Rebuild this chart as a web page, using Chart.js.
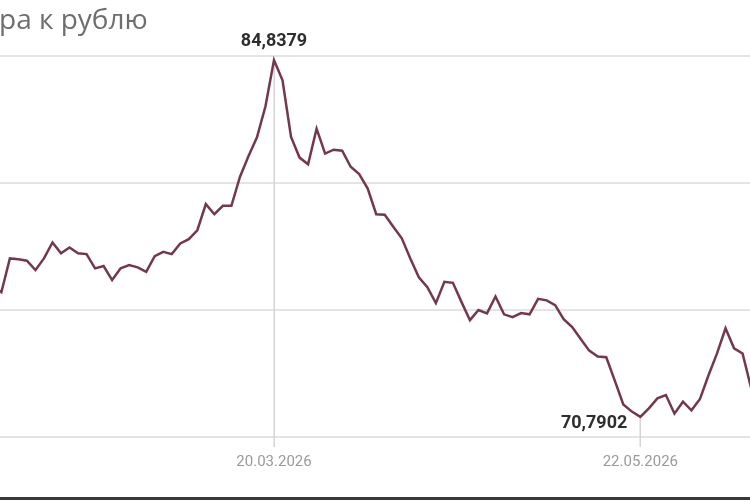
<!DOCTYPE html>
<html><head><meta charset="utf-8">
<script src="https://cdn.jsdelivr.net/npm/chart.js@4/dist/chart.umd.min.js"></script>
<style>
html,body{margin:0;padding:0;background:#fff;overflow:hidden}
#wrap{position:relative;width:750px;height:500px}
canvas{display:block}
#bar{position:absolute;left:0;bottom:0;width:750px;height:3px;background:#3a3a3a}
</style></head><body>
<div id="wrap"><canvas id="c" width="750" height="500"></canvas><div id="bar"></div></div>
<script>
// visible part of the chart title (cropped on the left in the reference)
const titleText = 'ра к рублю';
// daily rate, RUB per unit (first and last points lie just outside the visible frame)
const rates = [
  75.94, 75.70, 77.03, 77.00, 76.94, 76.57, 77.03, 77.66, 77.23, 77.46,
  77.23, 77.20, 76.64, 76.73, 76.18, 76.64, 76.77, 76.68, 76.50, 77.12,
  77.29, 77.20, 77.62, 77.79, 78.14, 79.17, 78.77, 79.10, 79.10, 80.24,
  81.05, 81.80, 83.02, 84.8379, 84.04, 81.81, 81.00, 80.74, 82.14, 81.16,
  81.31, 81.27, 80.64, 80.35, 79.78, 78.77, 78.75, 78.28, 77.82, 77.03,
  76.29, 75.90, 75.27, 76.11, 76.07, 75.32, 74.60, 75.00, 74.87, 75.53,
  74.83, 74.72, 74.88, 74.83, 75.44, 75.38, 75.19, 74.64, 74.33, 73.86,
  73.40, 73.17, 73.14, 72.22, 71.28, 71.00, 70.7902, 71.13, 71.52, 71.65,
  70.92, 71.39, 71.05, 71.50, 72.43, 73.29, 74.28, 73.49, 73.29, 71.93,
  71.10
];
// dates of the marked extremes (maximum, minimum)
const extremeDates = ['20.03.2026', '22.05.2026'];
const yTicks = [70, 75, 80, 85];

const maxIdx = rates.indexOf(Math.max(...rates));
const minIdx = rates.indexOf(Math.min(...rates));
const markIdx = [maxIdx, minIdx];
const fmt = v => v.toFixed(4).replace('.', ',');

const points = rates.map((v, i) => ({x: i, y: v}));

const deco = {
  id: 'deco',
  beforeDatasetsDraw(chart) {
    const {ctx, scales: {x, y}, chartArea} = chart;
    ctx.save();
    ctx.strokeStyle = '#d4d4d4';
    ctx.lineWidth = 1.5;
    markIdx.forEach(i => {
      const px = Math.round(x.getPixelForValue(i)) + 0.25;
      ctx.beginPath();
      ctx.moveTo(px, y.getPixelForValue(rates[i]));
      ctx.lineTo(px, chartArea.bottom + 10);
      ctx.stroke();
    });
    ctx.restore();
  },
  afterDraw(chart) {
    const {ctx, scales: {x, y}} = chart;
    ctx.save();
    ctx.fillStyle = '#6e6e6e';
    ctx.font = '28px "Open Sans"';
    ctx.textBaseline = 'alphabetic';
    ctx.textAlign = 'left';
    ctx.fillText(titleText, -1, 29);
    ctx.fillStyle = '#2e2e2e';
    ctx.font = 'bold 18px Roboto';
    ctx.textBaseline = 'middle';
    ctx.textAlign = 'center';
    ctx.fillText(fmt(rates[maxIdx]), x.getPixelForValue(maxIdx), y.getPixelForValue(rates[maxIdx]) - 19);
    ctx.textAlign = 'right';
    ctx.fillText(fmt(rates[minIdx]), x.getPixelForValue(minIdx) - 13, y.getPixelForValue(rates[minIdx]) + 7);
    ctx.restore();
  }
};

new Chart(document.getElementById('c'), {
  type: 'line',
  data: {datasets: [{
    data: points,
    borderColor: '#74384c',
    borderWidth: 2.5,
    pointRadius: 0,
    tension: 0,
    fill: false
  }]},
  options: {
    responsive: false,
    animation: false,
    events: [],
    layout: {padding: {top: 56, bottom: 13, left: 0, right: 0}},
    plugins: {legend: {display: false}, tooltip: {enabled: false}},
    scales: {
      x: {
        type: 'linear',
        min: 0.84, max: 88.87,
        grid: {display: false, drawTicks: false},
        border: {display: false},
        afterBuildTicks: s => { s.ticks = markIdx.map(v => ({value: v})); },
        ticks: {
          autoSkip: false,
          maxRotation: 0,
          padding: 16,
          color: '#9a9a9a',
          font: {family: 'Roboto', size: 15},
          callback: v => extremeDates[markIdx.indexOf(v)]
        }
      },
      y: {
        min: 70, max: 85,
        afterBuildTicks: s => { s.ticks = yTicks.map(v => ({value: v})); },
        grid: {color: '#e4e4e4', lineWidth: 2, drawTicks: false},
        border: {display: false},
        ticks: {display: false}
      }
    }
  },
  plugins: [deco]
});
</script>
</body></html>
